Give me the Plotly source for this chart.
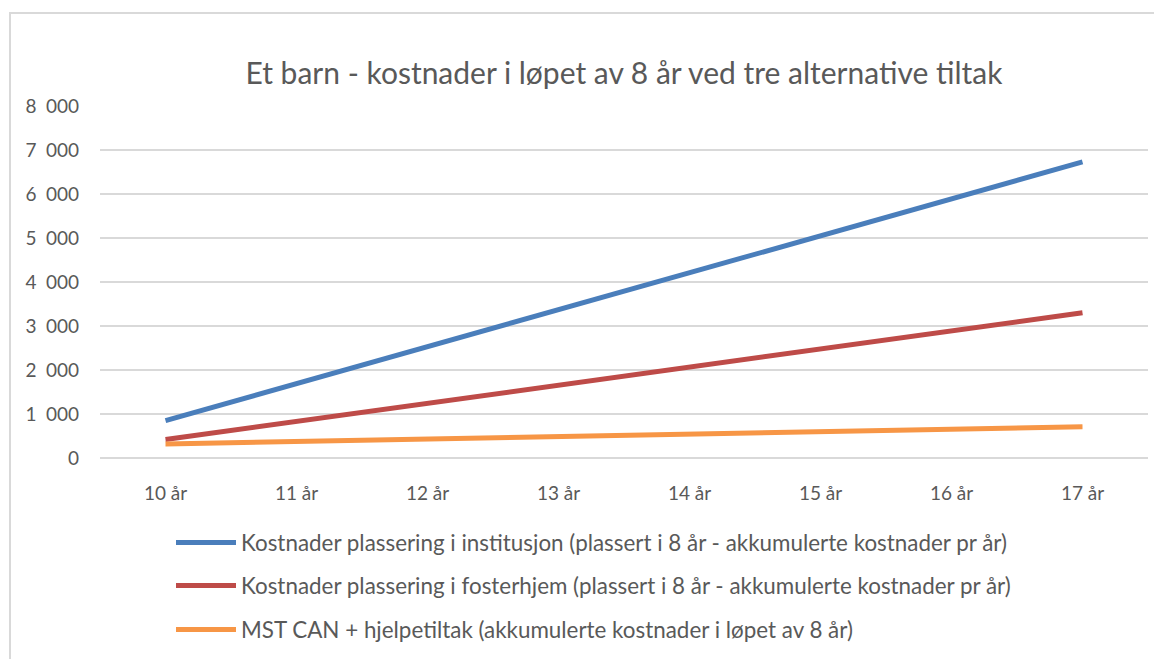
import plotly.graph_objects as go

categories = ["10 år", "11 år", "12 år", "13 år", "14 år", "15 år", "16 år", "17 år"]
institusjon = [850, 1690, 2530, 3370, 4210, 5050, 5890, 6730]
fosterhjem = [420, 832, 1244, 1656, 2068, 2480, 2892, 3300]
mst_can = [320, 376, 431, 487, 543, 599, 654, 710]
y_ticks = [0, 1000, 2000, 3000, 4000, 5000, 6000, 7000, 8000]
y_tick_labels = ["0", "1\u2002000", "2\u2002000", "3\u2002000", "4\u2002000",
                 "5\u2002000", "6\u2002000", "7\u2002000", "8\u2002000"]

names = [
    "Kostnader plassering i institusjon (plassert i 8 år - akkumulerte kostnader pr år)",
    "Kostnader plassering i fosterhjem (plassert i 8 år - akkumulerte kostnader pr år)",
    "MST CAN + hjelpetiltak (akkumulerte kostnader i løpet av 8 år)",
]
colors = ["#4A7EBB", "#BE4B48", "#F79646"]
series = [institusjon, fosterhjem, mst_can]
legends = ["legend", "legend2", "legend3"]

FONT = "Lato"
OFF = 8  # page body margin
W, H = 1162 - OFF, 659 - OFF
# desired screen positions
PL, PR, PT, PB = 100, 1148, 106, 458
L = PL - OFF
T = PT - OFF
R = W - (PR - OFF)
B = H - (PB - OFF)
pw = PR - PL
ph = PB - PT

def sx(px):
    return (px - PL) / pw

def sy(py):
    return (PB - py) / ph

fig = go.Figure()
for name, col, vals, lg in zip(names, colors, series, legends):
    fig.add_trace(go.Scatter(
        x=categories, y=vals, mode="lines", name=name,
        line=dict(color=col, width=5), legend=lg,
    ))

legend_rows = [543, 586, 630]
leg_common = dict(
    font=dict(family=FONT, size=22.4, color="#595959"),
    bgcolor="rgba(0,0,0,0)", xanchor="left", yanchor="middle",
    orientation="v", itemwidth=60,
)
layout_legends = {}
for lg, py in zip(legends, legend_rows):
    layout_legends[lg] = dict(x=sx(171), y=sy(py), **leg_common)

fig.update_layout(
    width=W, height=H,
    margin=dict(l=L, r=R, t=T, b=B, autoexpand=False),
    paper_bgcolor="white", plot_bgcolor="white",
    title=dict(
        text="Et barn - kostnader i løpet av 8 år ved tre alternative tiltak",
        font=dict(family=FONT, size=30, color="#595959"),
        x=0.5, xref="paper", xanchor="center",
        y=1 - (73 - OFF) / H, yref="container", yanchor="middle",
    ),
    showlegend=True,
    xaxis=dict(
        type="category", range=[-0.5, 7.5],
        showgrid=False, zeroline=False, showline=False,
        ticks="", tickfont=dict(family=FONT, size=19, color="#595959"),
        ticklabelstandoff=22,
    ),
    yaxis=dict(
        range=[0, 8000], tickvals=y_ticks, ticktext=y_tick_labels,
        showgrid=True, gridcolor="#D9D9D9", gridwidth=1.5,
        zeroline=True, zerolinecolor="#D9D9D9", zerolinewidth=1.5,
        showline=False, ticks="",
        tickfont=dict(family=FONT, size=19, color="#595959"),
        ticklabelstandoff=20,
    ),
    shapes=[dict(
        type="rect", xref="paper", yref="paper",
        x0=sx(10), x1=sx(1200),
        y0=sy(13), y1=sy(700),
        line=dict(color="#D9D9D9", width=2), fillcolor="rgba(0,0,0,0)",
        layer="below",
    )],
    **layout_legends,
)

fig.write_html("out.html")
